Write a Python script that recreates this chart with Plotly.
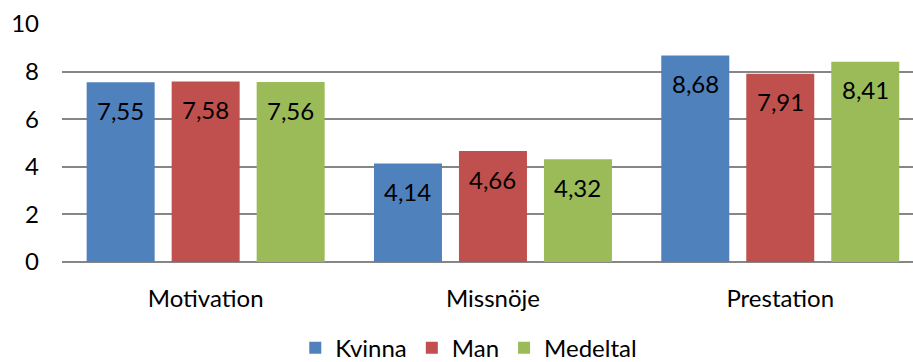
import plotly.graph_objects as go

categories = ["Motivation", "Missnöje", "Prestation"]
kvinna = [7.55, 4.14, 8.68]
man = [7.58, 4.66, 7.91]
medeltal = [7.56, 4.32, 8.41]
y_ticks = [0, 2, 4, 6, 8, 10]

series = [
    ("Kvinna", kvinna, "#4F81BD"),
    ("Man", man, "#C0504D"),
    ("Medeltal", medeltal, "#9BBB59"),
]

FONT = "Lato"
FS = 24

def fmt(v):
    return f"{v:.2f}".replace(".", ",")

x_pos = list(range(len(categories)))
fig = go.Figure()
for name, vals, color in series:
    fig.add_trace(go.Bar(
        name=name, x=x_pos, y=vals,
        marker=dict(color=color, line=dict(width=0)),
    ))

# value labels just inside the top of each bar
n = len(series)
group = 1 - 0.1125
slot = group / n
for i, (name, vals, color) in enumerate(series):
    for xi, v in zip(x_pos, vals):
        fig.add_annotation(
            x=xi - group / 2 + slot * (i + 0.5), y=v,
            text=fmt(v), showarrow=False, yanchor="middle", yshift=-28,
            font=dict(family=FONT, size=FS, color="#000000"),
        )

fig.update_layout(
    width=913, height=362,
    margin=dict(l=62, r=0, t=24, b=100, autoexpand=False),
    paper_bgcolor="white", plot_bgcolor="white",
    barmode="group", bargap=0.1125, bargroupgap=0.2,
    font=dict(family=FONT, size=FS, color="#000000"),
    showlegend=True,
    legend=dict(
        orientation="h", x=0.478, xanchor="center", y=-0.362, yanchor="middle",
        font=dict(family=FONT, size=FS), itemwidth=30,
    ),
)
fig.update_xaxes(
    range=[-0.5, 2.462], tickvals=x_pos, ticktext=categories,
    showgrid=False, showline=False, zeroline=False,
    ticks="", ticklabelstandoff=20, automargin=False,
)
fig.update_yaxes(
    range=[0, 10], tickvals=y_ticks,
    showgrid=True, gridcolor="#868686", gridwidth=1.5,
    zeroline=True, zerolinecolor="#868686", zerolinewidth=1.5,
    showline=False, ticks="", ticklabelstandoff=22, automargin=False,
)
fig.write_html("out.html")
